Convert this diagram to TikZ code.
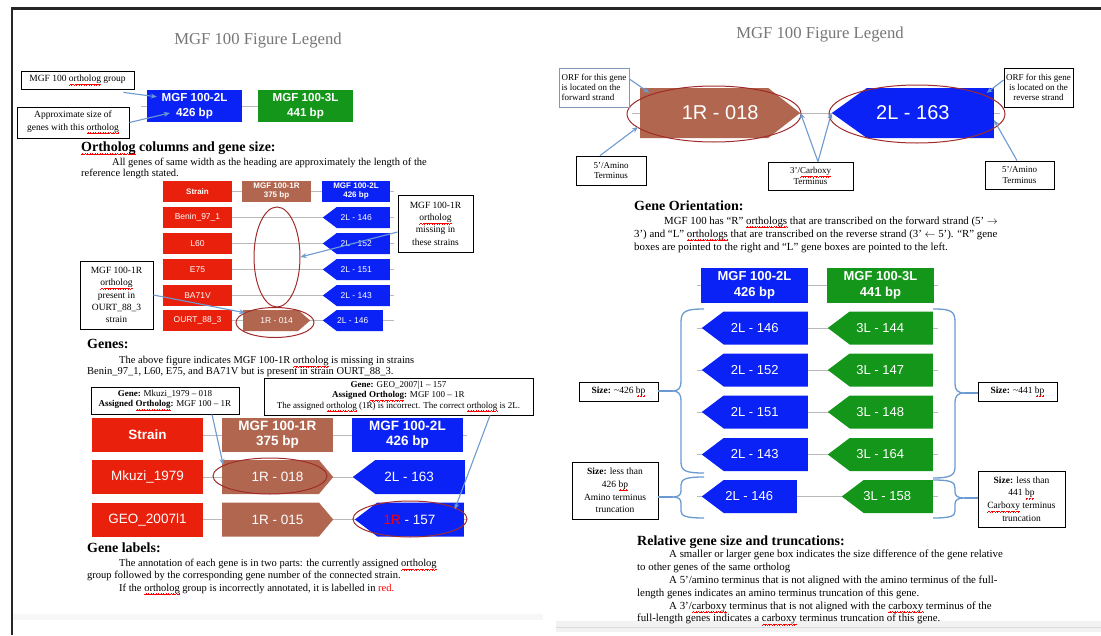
\documentclass[tikz,border=0pt]{standalone}
\usepackage{fontspec}
\setmainfont{Liberation Serif}
\setsansfont{Liberation Sans}
\usetikzlibrary{arrows.meta, shapes.geometric, shapes.symbols, backgrounds}
\definecolor{GeneRed}{HTML}{E8200C}
\definecolor{GeneBrown}{HTML}{B1674F}
\definecolor{GeneBlue}{HTML}{0B22F6}
\definecolor{GeneGreen}{HTML}{14961A}
\definecolor{Ring}{HTML}{A12B2B}
\definecolor{Pointer}{HTML}{6B9AD0}
\definecolor{OrfEdge}{HTML}{8197B8}
\definecolor{TitleGray}{HTML}{767676}
\definecolor{RowLine}{HTML}{B9B9B9}
% red wavy spell-check mark
\newsavebox\spellbox
\newcommand{\spellwave}{\hbox{\rule[-3.6pt]{0.6pt}{0.55pt}\rule[-3.1pt]{0.6pt}{0.55pt}%
  \rule[-2.6pt]{0.6pt}{0.55pt}\rule[-3.1pt]{0.6pt}{0.55pt}}}
\newcommand{\spellerr}[1]{\sbox\spellbox{#1}\rlap{\textcolor{red}{\hbox to \wd\spellbox{\xleaders\spellwave\hfil}}}\usebox\spellbox}
\lineskiplimit=-100pt
\tikzset{
  gene/.style={rectangle, fill=#1, text=white, inner sep=0pt, align=center},
  lgene/.style={gene=#1, shape=signal, signal to=west, signal from=nowhere,
                signal pointer angle=74, anchor=east},
  rgene/.style={gene=#1, shape=signal, signal to=east, signal from=nowhere,
                signal pointer angle=82, anchor=west},
  ltip/.style={execute at begin node={\hspace*{-#1}}},
  rtip/.style={execute at end node={\hspace*{-#1}}},
  note/.style={rectangle, draw=black, line width=0.8pt, fill=white,
               inner sep=1pt, align=center},
  ring/.style={ellipse, draw=Ring, line width=1pt, inner sep=0pt},
}
\begin{document}
\begin{tikzpicture}[x=1pt, y=-1pt,
    ptr/.style={-{Stealth[length=6pt, width=5pt]}, draw=Pointer, line width=1.1pt},
    rowline/.style={draw=RowLine, line width=0.8pt},
    brc/.style={draw=Pointer, line width=1.3pt},
    title/.style={font=\fontsize{16.7}{19}\selectfont, text=TitleGray},
    heading/.style={anchor=north west, inner sep=0pt, font=\fontsize{14}{16}\selectfont\bfseries},
    paraL/.style={anchor=north west, inner sep=0pt, align=left, font=\fontsize{10.5}{11.3}\selectfont},
    paraR/.style={anchor=north west, inner sep=0pt, align=left, font=\fontsize{10.85}{12.9}\selectfont},
    noteL/.style={note, font=\fontsize{9.5}{12.3}\selectfont},
    noteS/.style={note, font=\fontsize{9}{10.3}\selectfont},
    sbox/.style={minimum width=69, minimum height=21, font=\sffamily\fontsize{8.5}{9.5}\selectfont},
    shdr/.style={sbox, font=\sffamily\bfseries\fontsize{8}{9}\selectfont},
    bbox/.style={minimum width=111, minimum height=34, font=\sffamily\fontsize{13.5}{15}\selectfont},
    bhdr/.style={bbox, font=\sffamily\bfseries\fontsize{13.5}{15}\selectfont},
    cbox/.style={minimum height=33, font=\sffamily\fontsize{13}{16}\selectfont},
    chdr/.style={minimum width=107, minimum height=35, font=\sffamily\bfseries\fontsize{13}{16}\selectfont},
  ]
\useasboundingbox (0,0) rectangle (1101,635);
% page edges
\draw[line width=2.5pt, black!85] (12,635) -- (12,8.5) -- (1101,8.5);
\fill[black!3] (13,614) rectangle (543,620);
\fill[black!5] (556,621) rectangle (1101,632);
\draw[black!14, line width=1pt] (556,627) -- (1101,627);

%%%%% left page
\node[title] (titleL) at (258,41) {MGF 100 Figure Legend};

\node[gene=GeneBlue, minimum width=95, minimum height=32,
      font=\sffamily\bfseries\fontsize{11.6}{15}\selectfont] (top2L) at (194.5,106) {MGF 100-2L\\426 bp};
\node[gene=GeneGreen, minimum width=95, minimum height=32,
      font=\sffamily\bfseries\fontsize{11.6}{15}\selectfont] (top3L) at (305.5,106) {MGF 100-3L\\441 bp};
\coordinate (top0) at (141,106);
\node[noteL, minimum width=113, minimum height=18] (grpNote) at (77.5,80)
  {MGF 100 \spellerr{ortholog} group};
\node[noteL, minimum width=112, minimum height=31] (sizeNote) at (73,122.5)
  {Approximate size of\\genes with this \spellerr{ortholog}};
\draw[ptr] ([xshift=-11pt, yshift=-3pt]grpNote.south east) -- ([xshift=10pt, yshift=-7pt]top2L.north west);
\draw[ptr] (sizeNote.east) -- ([xshift=23pt, yshift=-7pt]top2L.west);

\node[heading] (hOrtho) at (81,141.5) {\spellerr{Ortholog} columns and gene size:};
\node[paraL] (pOrtho) at (81,158)
  {\hspace*{31pt}All genes of same width as the heading are approximately the length of the\\
   reference length stated.};

% small strain table
\node[gene=GeneRed, shdr] (sStrain) at (197.5,191.5) {Strain};
\node[gene=GeneBrown, shdr] (s1R) at (276.5,191.5) {MGF 100-1R\\375 bp};
\node[gene=GeneBlue, shdr, minimum width=68] (s2L) at (356,191.5) {MGF 100-2L\\426 bp};
\node[gene=GeneRed, sbox] (sBenin) at (197.5,217.5) {Benin\_97\_1};
\node[gene=GeneRed, sbox] (sL60) at (197.5,243.5) {L60};
\node[gene=GeneRed, sbox] (sE75) at (197.5,269.5) {E75};
\node[gene=GeneRed, sbox] (sBA71V) at (197.5,295.5) {BA71V};
\node[gene=GeneRed, sbox] (sOURT) at (197.5,320.5) {OURT\_88\_3};
\node[lgene=GeneBlue, sbox, ltip=14pt, minimum width=67] (sg146) at (390,217.5) {2L - 146};
\node[lgene=GeneBlue, sbox, ltip=14pt, minimum width=67] (sg152) at (390,243.5) {2L - 152};
\node[lgene=GeneBlue, sbox, ltip=14pt, minimum width=67] (sg151) at (390,269.5) {2L - 151};
\node[lgene=GeneBlue, sbox, ltip=14pt, minimum width=67] (sg143) at (390,295.5) {2L - 143};
\node[lgene=GeneBlue, sbox, ltip=14pt, minimum width=60] (sg146b) at (383,320.5) {2L - 146};
\node[rgene=GeneBrown, sbox, rtip=12pt, minimum width=67] (sg014) at (243,320.5) {1R - 014};
\coordinate (sEnd) at (394,0);
\node[ring, minimum width=46, minimum height=100] (missRing) at (277,257) {};
\node[ring, minimum width=78, minimum height=30] (ourtRing) at (275,322.5) {};
\node[noteL, minimum width=75, minimum height=57] (missNote) at (435.5,223.5)
  {MGF 100-1R\\\spellerr{ortholog}\\missing in\\these strains};
\node[noteL, minimum width=73, minimum height=68] (ourtNote) at (116.5,295)
  {MGF 100-1R\\\spellerr{ortholog}\\present in\\OURT\_88\_3\\strain};
\draw[ptr] ([yshift=-8.5pt]missNote.west) -- (missRing.east);
\draw[ptr] (ourtNote.east) -- ([xshift=-25.5pt, yshift=-3pt]sg014.north);

\node[heading] (hGenes) at (87,339) {Genes:};
\node[paraL] (pGenes) at (87,356)
  {\hspace*{32pt}The above figure indicates MGF 100-1R \spellerr{ortholog} is missing in strains\\
   Benin\_97\_1, L60, E75, and BA71V but is present in strain OURT\_88\_3.};

% large strain table
\node[gene=GeneRed, bhdr] (bStrain) at (147.5,435) {Strain};
\node[gene=GeneBrown, bhdr] (b1R) at (277.5,435) {MGF 100-1R\\375 bp};
\node[gene=GeneBlue, bhdr] (b2L) at (407.5,435) {MGF 100-2L\\426 bp};
\node[gene=GeneRed, bbox] (bMkuzi) at (147.5,477) {Mkuzi\_1979};
\node[rgene=GeneBrown, bbox, rtip=14pt, signal pointer angle=100] (bg018) at (222,477) {1R - 018};
\node[lgene=GeneBlue, bbox, ltip=22pt, minimum width=112] (bg163) at (465,477) {2L - 163};
\node[gene=GeneRed, bbox] (bGEO) at (147.5,519.5) {GEO\_2007l1};
\node[rgene=GeneBrown, bbox, rtip=14pt, signal pointer angle=100] (bg015) at (222,519.5) {1R - 015};
\node[lgene=GeneBlue, bbox, ltip=22pt, minimum width=109] (bg157) at (464,519.5) {\textcolor{red}{1R} - 157};
\coordinate (bEnd) at (467,0);
\node[ring, minimum width=114, minimum height=36] (ring018) at (270,476) {};
\node[ring, minimum width=114, minimum height=36] (ring157) at (410,519) {};
\node[noteS, minimum width=148, minimum height=27] (mkNote) at (165,400.5)
  {\textbf{Gene:} Mkuzi\_1979 -- 018\\\textbf{Assigned \spellerr{Ortholog}:} MGF 100 -- 1R};
\node[noteS, minimum width=269, minimum height=37] (geoNote) at (398.5,396.5)
  {\textbf{Gene:} GEO\_2007\textbar1 -- 157\\\textbf{Assigned \spellerr{Ortholog}:} MGF 100 -- 1R\\
   The assigned \spellerr{ortholog} (1R) is incorrect. The correct \spellerr{ortholog} is 2L.};
\draw[ptr] ([xshift=47pt]mkNote.south) -- ([xshift=-47.4pt, yshift=-5pt]bg018.north);
\draw[ptr] ([xshift=91.5pt]geoNote.south) -- ([xshift=34.2pt, yshift=-7pt]bg157.north);

\node[heading] (hLabels) at (87,543) {Gene labels:};
\node[paraL, font=\fontsize{10.5}{12.3}\selectfont] (pLabels) at (87,559)
  {\hspace*{32pt}The annotation of each gene is in two parts: the currently assigned \spellerr{ortholog}\\
   group followed by the corresponding gene number of the connected strain.\\
   \hspace*{32pt}If the \spellerr{ortholog} group is incorrectly annotated, it is labelled in \textcolor{red}{red.}};

%%%%% right page
\node[title] (titleR) at (820,35) {MGF 100 Figure Legend};

\node[rgene=GeneBrown, rtip=32pt, minimum width=160, minimum height=50, signal pointer angle=76,
      font=\sffamily\fontsize{20}{22}\selectfont] (big018) at (640,113) {1R - 018};
\node[lgene=GeneBlue, ltip=35pt, minimum width=162, minimum height=50, signal pointer angle=71,
      font=\sffamily\fontsize{20}{22}\selectfont] (big163) at (994,113) {2L - 163};
\coordinate (fwdEnd) at (632,113);
\coordinate (revEnd) at (1000,113);
\node[ring, minimum width=174, minimum height=56] (ringFwd) at (714,114) {};
\node[ring, minimum width=176, minimum height=58] (ringRev) at (917,114) {};
\node[noteS, draw=OrfEdge, align=left, minimum width=70, minimum height=39] (orfFwd) at (594,87.5)
  {ORF for this gene\\is located on the\\forward strand};
\node[noteS, minimum width=69, minimum height=39] (orfRev) at (1038.5,87.5)
  {ORF for this gene\\is located on the\\reverse strand};
\node[noteS, minimum width=70, minimum height=29] (amFwd) at (611,170.5) {5'/Amino\\Terminus};
\node[noteS, minimum width=85, minimum height=28] (cbxNote) at (810.5,176) {3'/\spellerr{Carboxy}\\Terminus};
\node[noteS, minimum width=69, minimum height=28] (amRev) at (1019.5,175) {5'/Amino\\Terminus};
\draw[ptr] ([yshift=8.5pt]orfFwd.east) -- ([xshift=-55pt, yshift=-5pt]big018.north);
\draw[ptr] ([xshift=-11pt]amFwd.north) -- ([xshift=-2pt, yshift=-14pt]big018.west);
\draw[ptr] ([xshift=7.5pt]cbxNote.north) -- (big018.east);
\draw[ptr] ([xshift=7.5pt]cbxNote.north) -- (big163.west);
\draw[ptr] ([xshift=-2.5pt]amRev.north) -- ([yshift=-7pt]big163.east);
\draw[ptr] ([yshift=7.5pt]orfRev.west) -- ([xshift=56.5pt, yshift=-5pt]big163.north);

\node[heading] (hOrient) at (634,201) {Gene Orientation:};
\node[paraR] (pOrient) at (634,216.5)
  {\hspace*{30pt}MGF 100 has ``R'' \spellerr{orthologs} that are transcribed on the forward strand (5' $\rightarrow$\\
   3') and ``L'' \spellerr{orthologs} that are transcribed on the reverse strand (3' $\leftarrow$ 5'). ``R'' gene\\
   boxes are pointed to the right and ``L'' gene boxes are pointed to the left.};

% ortholog columns
\node[gene=GeneBlue, chdr] (c2L) at (754.5,285.5) {MGF 100-2L\\426 bp};
\node[gene=GeneGreen, chdr] (c3L) at (880.5,285.5) {MGF 100-3L\\441 bp};
\node[lgene=GeneBlue, cbox, ltip=22pt, minimum width=106] (c146) at (808,328) {2L - 146};
\node[lgene=GeneBlue, cbox, ltip=22pt, minimum width=106] (c152) at (808,370) {2L - 152};
\node[lgene=GeneBlue, cbox, ltip=22pt, minimum width=106] (c151) at (808,412) {2L - 151};
\node[lgene=GeneBlue, cbox, ltip=22pt, minimum width=106] (c143) at (808,454.5) {2L - 143};
\node[lgene=GeneBlue, cbox, ltip=22pt, minimum width=95] (c146b) at (797,496.5) {2L - 146};
\node[lgene=GeneGreen, cbox, ltip=22pt, minimum width=105] (d144) at (933,328) {3L - 144};
\node[lgene=GeneGreen, cbox, ltip=22pt, minimum width=105] (d147) at (933,370) {3L - 147};
\node[lgene=GeneGreen, cbox, ltip=22pt, minimum width=105] (d148) at (933,412) {3L - 148};
\node[lgene=GeneGreen, cbox, ltip=22pt, minimum width=105] (d164) at (933,454.5) {3L - 164};
\node[lgene=GeneGreen, cbox, ltip=22pt, minimum width=91] (d158) at (933,496.5) {3L - 158};
\coordinate (cStart) at (697,0);
\coordinate (cEnd) at (938,0);

\node[noteL, minimum width=79, minimum height=19] (s426) at (618.5,391.5)
  {\textbf{Size:} \textasciitilde426 \spellerr{bp}};
\node[noteL, font=\fontsize{9.5}{12.8}\selectfont, minimum width=86, minimum height=57] (s426t) at (615,490.5)
  {\textbf{Size:} less than\\426 \spellerr{bp}\\Amino terminus\\truncation};
\node[noteL, minimum width=79, minimum height=19] (s441) at (1017.5,391.5)
  {\textbf{Size:} \textasciitilde441 \spellerr{bp}};
\node[noteL, font=\fontsize{9.5}{12.8}\selectfont, minimum width=87, minimum height=56] (s441t) at (1021.5,499)
  {\textbf{Size:} less than\\441 \spellerr{bp}\\\spellerr{Carboxy} terminus\\truncation};
% size braces
\draw[brc] (704,309) .. controls (686,309) and (681,311) .. (681,322) -- (681,382)
  .. controls (681,388) and (678,391) .. (673,391) coordinate (tip426)
  .. controls (678,391) and (681,394) .. (681,400) -- (681,462)
  .. controls (681,471) and (686,473) .. (704,473);
\draw[brc] (704,477) .. controls (686,477) and (681,479) .. (681,485) -- (681,491)
  .. controls (681,495) and (678,497) .. (673,497) coordinate (tip426t)
  .. controls (678,497) and (681,499) .. (681,503) -- (681,511)
  .. controls (681,516) and (686,518) .. (704,518);
\draw[brc] (933,309) .. controls (951,309) and (955,311) .. (955,322) -- (955,384)
  .. controls (955,390) and (958,393) .. (964,393) coordinate (tip441)
  .. controls (958,393) and (955,396) .. (955,402) -- (955,467)
  .. controls (955,475) and (951,478) .. (933,478);
\draw[brc] (933,480) .. controls (951,480) and (955,482) .. (955,488) -- (955,492)
  .. controls (955,496) and (958,498) .. (964,498) coordinate (tip441t)
  .. controls (958,498) and (955,500) .. (955,504) -- (955,511)
  .. controls (955,516) and (951,518) .. (933,518);
\draw[brc] (tip426) -- (tip426 -| s426.east);
\draw[brc] (tip426t) -- (tip426t -| s426t.east);
\draw[brc] (tip441) -- (tip441 -| s441.west);
\draw[brc] (tip441t) -- (tip441t -| s441t.west);

\node[heading] (hRel) at (637,535.5) {Relative gene size and truncations:};
\node[paraR, font=\fontsize{10.85}{12.8}\selectfont] (pRel) at (637,550)
  {\hspace*{32pt}A smaller or larger gene box indicates the size difference of the gene relative\\
   to other genes of the same ortholog\\
   \hspace*{32pt}A 5'/amino terminus that is not aligned with the amino terminus of the full-\\
   length genes indicates an amino terminus truncation of this gene.\\
   \hspace*{32pt}A 3'/\spellerr{carboxy} terminus that is not aligned with the \spellerr{carboxy} terminus of the\\
   full-length genes indicates a \spellerr{carboxy} terminus truncation of this gene.};

% row lines
\begin{scope}[on background layer]
  \draw[rowline] (top0) -- (top2L) (top2L) -- (top3L);
  \draw[rowline] (sStrain.east) -- (sStrain.east -| sEnd);
  \draw[rowline] (sBenin.east) -- (sBenin.east -| sEnd);
  \draw[rowline] (sL60.east) -- (sL60.east -| sEnd);
  \draw[rowline] (sE75.east) -- (sE75.east -| sEnd);
  \draw[rowline] (sBA71V.east) -- (sBA71V.east -| sEnd);
  \draw[rowline] (sOURT.east) -- (sOURT.east -| sEnd);
  \draw[rowline] (bStrain.east) -- (bStrain.east -| bEnd);
  \draw[rowline] (bMkuzi.east) -- (bMkuzi.east -| bEnd);
  \draw[rowline] (bGEO.east) -- (bGEO.east -| bEnd);
  \draw[rowline] (fwdEnd) -- (revEnd);
  \draw[rowline] (cStart |- c2L) -- (cEnd |- c2L);
  \draw[rowline] (cStart |- c146) -- (cEnd |- c146);
  \draw[rowline] (cStart |- c152) -- (cEnd |- c152);
  \draw[rowline] (cStart |- c151) -- (cEnd |- c151);
  \draw[rowline] (cStart |- c143) -- (cEnd |- c143);
  \draw[rowline] (cStart |- c146b) -- (cEnd |- c146b);
\end{scope}
\end{tikzpicture}
\end{document}
